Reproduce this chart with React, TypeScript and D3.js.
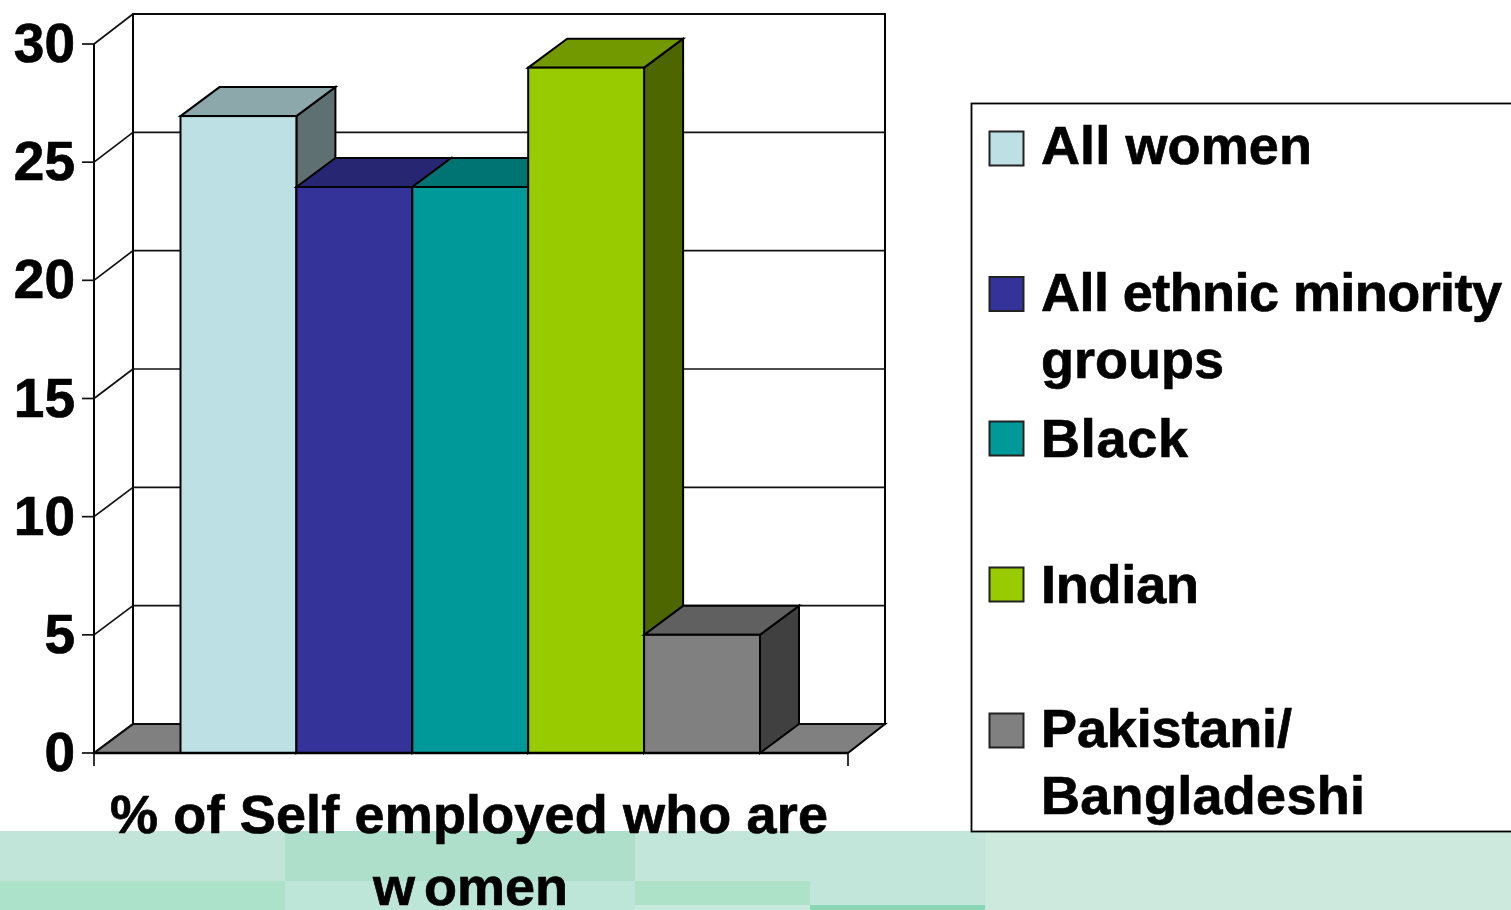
import React from "react";
import * as d3 from "d3";

const categories = ["All women", "All ethnic minority groups", "Black", "Indian", "Pakistani/ Bangladeshi"];
const values = [26.95, 23.95, 23.95, 29, 5];
const yTicks = [0, 5, 10, 15, 20, 25, 30];
const fills = ["#bce0e3", "#333399", "#009999", "#99cc00", "#808080"];
const legendLines = [["All women"], ["All ethnic minority", "groups"], ["Black"], ["Indian"], ["Pakistani/", "Bangladeshi"]];
const legendWidths = [[271], [461, 183], [147], [158], [251, 324]];
const legendBaselines = [164, 311, 457, 603, 747];
const swatchTops = [131.5, 277, 421.5, 567.5, 713.5];
const titleFirst = "% of Self employed who are";

const FONT = "'Liberation Sans', Arial, sans-serif";
const y = d3.scaleLinear().domain([0, 30]).range([753, 44]);
const yBack = d3.scaleLinear().domain([0, 30]).range([724, 14]);
const x = d3.scaleBand<string>().domain(categories).range([180.5, 760]);
const DX = 39, DY = -29;
const XL = 94, XR = 848, XBL = 133, XBR = 885;
const pts = (p: number[][]) => p.map((q) => q.join(",")).join(" ");
const shade = (c: string, k: number) => {
  const r = d3.rgb(c);
  return d3.rgb(r.r * k, r.g * k, r.b * k).formatHex();
};

const tiles: [number, number, number, number, string][] = [
  [0, 831, 285, 50, "#c1e5d8"],
  [285, 831, 350, 50, "#aedfcb"],
  [635, 831, 350, 79, "#c2e6da"],
  [985, 831, 526, 79, "#cde9de"],
  [0, 881, 285, 29, "#ade2ca"],
  [285, 881, 350, 29, "#bee6d8"],
  [635, 881, 175, 24, "#ade2c9"],
  [635, 905, 175, 5, "#c8e9dd"],
  [810, 905, 175, 5, "#8ad7b5"],
];

const heavy = { stroke: "#000", strokeWidth: 0.7, fontFamily: FONT, fontWeight: "bold" as const };

export default function App() {
  const s = { stroke: "#000", strokeWidth: 2, strokeLinejoin: "miter" as const };
  const w = { stroke: "#111", strokeWidth: 1.7 };
  return (
    <svg width={1511} height={910} style={{ position: "absolute", left: 0, top: 0, display: "block" }}>
      <rect width={1511} height={910} fill="#fff" />
      {tiles.map(([a, b, tw, h, c], i) => (
        <rect key={i} x={a} y={b} width={tw} height={h} fill={c} />
      ))}
      {/* walls */}
      <polygon points={pts([[XL, y(0)], [XBL, yBack(0)], [XBR, yBack(0)], [XR, y(0)]])} fill="#808080" {...s} />
      <rect x={XBL} y={yBack(30)} width={XBR - XBL} height={yBack(0) - yBack(30)} fill="none" {...s} />
      <line x1={XL} x2={XL} y1={y(30)} y2={y(0)} {...s} />
      {yTicks.map((t) => (
        <g key={t}>
          <line x1={XL - 12} x2={XL} y1={y(t)} y2={y(t)} {...w} />
          <line x1={XL} x2={XBL} y1={y(t)} y2={yBack(t)} {...w} />
          <line x1={XBL} x2={XBR} y1={yBack(t)} y2={yBack(t)} {...w} />
          <text x={75} y={y(t) + 18} textAnchor="end" fontSize={55} {...heavy}>{t}</text>
        </g>
      ))}
      <line x1={XL} x2={XL} y1={y(0)} y2={766} {...w} />
      <line x1={XR} x2={XR} y1={y(0)} y2={766} {...w} />
      {/* bars */}
      {categories.map((c, i) => {
        const x0 = x(c)!, x1 = x0 + x.bandwidth(), yt = y(values[i]), yb = y(0);
        return (
          <g key={c}>
            <polygon points={pts([[x1, yb], [x1 + DX, yb + DY], [x1 + DX, yt + DY], [x1, yt]])} fill={shade(fills[i], 0.5)} {...s} />
            <polygon points={pts([[x0, yt], [x0 + DX, yt + DY], [x1 + DX, yt + DY], [x1, yt]])} fill={shade(fills[i], 0.75)} {...s} />
            <rect x={x0} y={yt} width={x.bandwidth()} height={yb - yt} fill={fills[i]} {...s} />
          </g>
        );
      })}
      <line x1={XL} x2={XR} y1={y(0)} y2={y(0)} stroke="#000" strokeWidth={2.4} />
      {/* title */}
      <text x={110} y={833} textLength={718} lengthAdjust="spacing" fontSize={54} {...heavy}>{titleFirst}</text>
      <text x={373} y={905} fontSize={54} {...heavy}>w<tspan dx={9}>omen</tspan></text>
      {/* legend */}
      <rect x={971.5} y={103.5} width={560} height={728} fill="#fff" stroke="#000" strokeWidth={1.8} />
      {categories.map((c, i) => (
        <g key={c}>
          <rect x={989.5} y={swatchTops[i]} width={34} height={34} fill={fills[i]} stroke="#222" strokeWidth={2} />
          {legendLines[i].map((l, j) => (
            <text key={l} x={1041} y={legendBaselines[i] + j * 67} textLength={legendWidths[i][j]} lengthAdjust="spacing" fontSize={54} {...heavy}>{l}</text>
          ))}
        </g>
      ))}
    </svg>
  );
}
